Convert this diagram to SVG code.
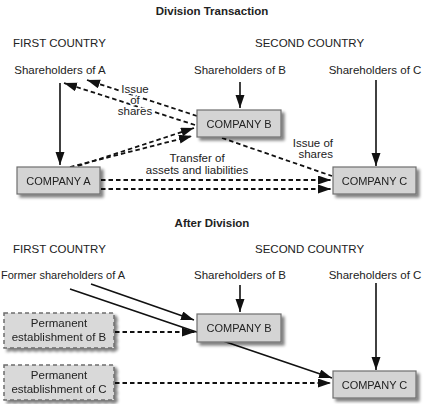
<svg xmlns="http://www.w3.org/2000/svg" width="433" height="404" viewBox="0 0 433 404">
<style>
text{font-family:"Liberation Sans",Arial,sans-serif;font-size:11.5px;fill:#222}
.t{font-weight:bold;font-size:11.5px;text-anchor:middle}
.m{text-anchor:middle}
.sm{font-size:11px}
.halo{paint-order:stroke;stroke:#fff;stroke-width:3px;stroke-linejoin:round}
.box{fill:#d4d4d4;stroke:#6e6e6e;stroke-width:1.2}
.pbox{fill:#d9d9d9;stroke:#6e6e6e;stroke-width:1.5;stroke-dasharray:4 3}
.s{fill:none;stroke:#111;stroke-width:1.6}
.d{fill:none;stroke:#111;stroke-width:1.8;stroke-dasharray:4.5 3}
</style>
<defs>
<marker id="ah" markerUnits="userSpaceOnUse" markerWidth="14" markerHeight="10" refX="13" refY="4.5" orient="auto">
<path d="M0,0 L13,4.5 L0,9 z" fill="#111"/>
</marker>
<filter id="sh" x="-20%" y="-20%" width="150%" height="160%">
<feGaussianBlur in="SourceAlpha" stdDeviation="1.8"/>
<feOffset dx="3" dy="3" result="b"/>
<feComponentTransfer><feFuncA type="linear" slope="0.5"/></feComponentTransfer>
<feMerge><feMergeNode/><feMergeNode in="SourceGraphic"/></feMerge>
</filter>
</defs>
<rect width="433" height="404" fill="#fff"/>

<g id="labels">
<text class="t" x="212" y="15">Division Transaction</text>
<text x="13" y="47">FIRST COUNTRY</text>
<text x="255" y="47">SECOND COUNTRY</text>
<text class="m" x="60" y="74">Shareholders of A</text>
<text class="m" x="240" y="74">Shareholders of B</text>
<text class="m" x="375" y="74">Shareholders of C</text>
<text class="t" x="212" y="227">After Division</text>
<text x="13" y="253">FIRST COUNTRY</text>
<text x="255" y="253">SECOND COUNTRY</text>
<text x="1" y="279" textLength="124" lengthAdjust="spacingAndGlyphs">Former shareholders of A</text>
<text class="m" x="240" y="279">Shareholders of B</text>
<text class="m" x="375" y="279">Shareholders of C</text>
</g>

<g id="connectors">
<line class="s" x1="60" y1="83" x2="60" y2="165" marker-end="url(#ah)"/>
<line class="s" x1="240" y1="82" x2="240" y2="108" marker-end="url(#ah)"/>
<line class="s" x1="376" y1="80" x2="376" y2="166" marker-end="url(#ah)"/>
<line class="d" x1="197" y1="116" x2="87" y2="80" marker-end="url(#ah)"/>
<line class="d" x1="195" y1="125" x2="64" y2="83" marker-end="url(#ah)"/>
<line class="d" x1="78" y1="166" x2="194" y2="128" marker-end="url(#ah)"/>
<line class="d" x1="70" y1="167" x2="192" y2="136" marker-end="url(#ah)"/>
<line class="d" x1="222" y1="138" x2="332" y2="176"/>
<line class="d" x1="101" y1="180" x2="331" y2="180" marker-end="url(#ah)"/>
<line class="d" x1="101" y1="189" x2="331" y2="189" marker-end="url(#ah)"/>
<line class="s" x1="240" y1="285" x2="240" y2="312" marker-end="url(#ah)"/>
<line class="s" x1="376" y1="283" x2="376" y2="370" marker-end="url(#ah)"/>
<line class="s" x1="91" y1="284" x2="194" y2="320" marker-end="url(#ah)"/>
<line class="s" x1="70" y1="289" x2="332" y2="378" marker-end="url(#ah)"/>
<line class="d" x1="115" y1="332" x2="195" y2="332" marker-end="url(#ah)"/>
<line class="d" x1="115" y1="383" x2="331" y2="383" marker-end="url(#ah)"/>
<text class="m halo" x="135" y="93">Issue</text>
<text class="m halo" x="135" y="104">of</text>
<text class="m halo" x="135" y="115">shares</text>
<text x="333" y="147" text-anchor="end">Issue of</text>
<text x="333" y="158" text-anchor="end">shares</text>
<text class="m" x="197" y="162">Transfer of</text>
<text class="m" x="197" y="174">assets and liabilities</text>
</g>

<g id="companyA" filter="url(#sh)">
<rect class="box" x="17" y="167" width="83" height="27"/>
<text class="m sm" x="58.5" y="185">COMPANY A</text>
</g>
<g id="companyB" filter="url(#sh)">
<rect class="box" x="197" y="110" width="84" height="27"/>
<text class="m sm" x="239" y="128">COMPANY B</text>
</g>
<g id="companyC" filter="url(#sh)">
<rect class="box" x="333" y="167" width="83" height="27"/>
<text class="m sm" x="374.5" y="185">COMPANY C</text>
</g>
<g id="companyB2" filter="url(#sh)">
<rect class="box" x="197" y="314" width="84" height="28"/>
<text class="m sm" x="239" y="332">COMPANY B</text>
</g>
<g id="companyC2" filter="url(#sh)">
<rect class="box" x="333" y="371" width="83" height="27"/>
<text class="m sm" x="374.5" y="389">COMPANY C</text>
</g>
<g id="peB" filter="url(#sh)">
<rect class="pbox" x="4" y="313" width="110" height="35"/>
<text class="m" x="59" y="327">Permanent</text>
<text class="m" x="59" y="341">establishment of B</text>
</g>
<g id="peC" filter="url(#sh)">
<rect class="pbox" x="4" y="365" width="110" height="35"/>
<text class="m" x="59" y="379">Permanent</text>
<text class="m" x="59" y="393">establishment of C</text>
</g>
</svg>
